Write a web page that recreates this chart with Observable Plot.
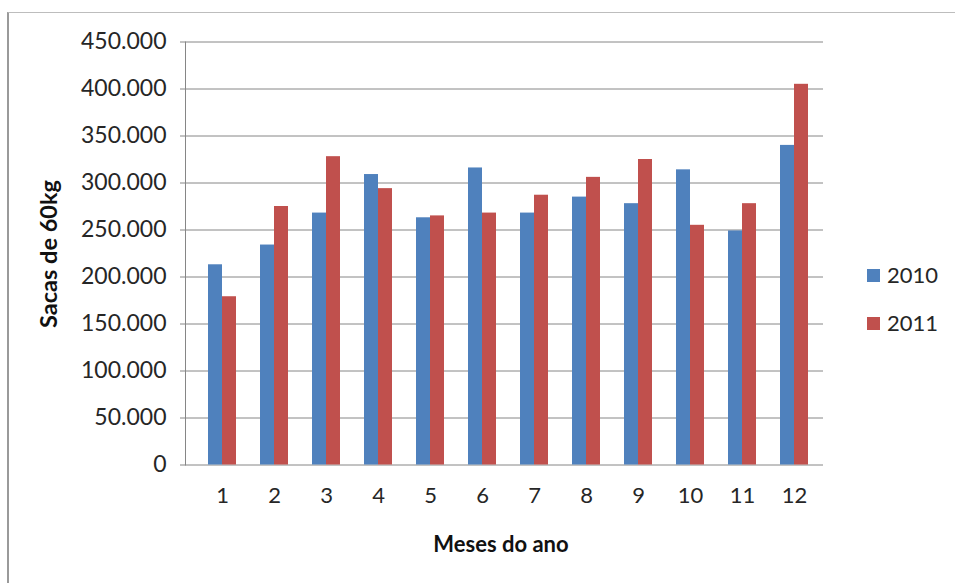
<!DOCTYPE html>
<html>
<head>
<meta charset="utf-8">
<script src="https://cdn.jsdelivr.net/npm/d3@7"></script>
<script src="https://cdn.jsdelivr.net/npm/@observablehq/plot@0.6"></script>
<style>
  html, body { margin: 0; padding: 0; background: #fff; }
  #chart { position: relative; width: 955px; height: 583px; overflow: hidden; font-family: Lato, "Open Sans", sans-serif; color: #262626; }
  #border { position: absolute; left: 7px; top: 12px; width: 1000px; height: 1000px; border-left: 2px solid #9a9a9a; border-top: 1px solid #bdbdbd; }
  #plot { position: absolute; left: 0; top: 0; }
  .title { position: absolute; font-weight: bold; font-size: 22px; line-height: 22px; color: #111; white-space: nowrap; }
  #xtitle { left: 501px; top: 533px; transform: translateX(-50%); }
  #ytitle { left: 48px; top: 254px; font-size: 23.5px; transform: translate(-50%, -50%) rotate(-90deg); }
  .legend-item { position: absolute; left: 867px; display: flex; align-items: center; font-size: 22px; line-height: 22px; color: #262626; }
  .legend-item span.swatch { display: inline-block; width: 13px; height: 13px; margin-right: 7px; }
</style>
</head>
<body>
<div id="chart">
  <div id="border"></div>
  <div id="plot"></div>
  <div class="title" id="ytitle">Sacas de 60kg</div>
  <div class="title" id="xtitle">Meses do ano</div>
  <div id="legend"></div>
</div>
<script>
// Monthly volume, in 60 kg bags
const months = [1, 2, 3, 4, 5, 6, 7, 8, 9, 10, 11, 12];
const bags2010 = [213000, 234000, 268000, 309000, 263000, 316000, 268000, 285000, 278000, 314000, 249000, 340000];
const bags2011 = [179000, 275000, 328000, 294000, 265000, 268000, 287000, 306000, 325000, 255000, 278000, 405000];
const years = ["2010", "2011"];
const yearColors = ["#4F81BD", "#C0504D"];
const yTicks = [0, 50000, 100000, 150000, 200000, 250000, 300000, 350000, 400000, 450000];

const rows2010 = months.map((m, i) => ({month: m, year: years[0], bags: bags2010[i]}));
const rows2011 = months.map((m, i) => ({month: m, year: years[1], bags: bags2011[i]}));

// Brazilian number format: dot as thousands separator
const ptBR = d3.formatLocale({decimal: ",", thousands: ".", grouping: [3], currency: ["R$", ""]});
const fmt = ptBR.format(",.0f");

const gridColor = "#868686";

const chart = Plot.plot({
  width: 955,
  height: 583,
  marginLeft: 185,
  marginRight: 132,
  marginTop: 41.5,
  marginBottom: 118.5,
  style: {fontFamily: "Lato, 'Open Sans', sans-serif", fontSize: "22px", color: "#262626", background: "transparent"},
  x: {type: "band", domain: months, paddingInner: 0.46667, paddingOuter: 0.23333, insetLeft: 8, label: null},
  y: {domain: [0, 450000], label: null},
  marks: [
    Plot.ruleY(yTicks, {stroke: gridColor, strokeWidth: 1}),
    // paired columns: 2010 on the left half of each month band, 2011 on the right half
    Plot.barY(rows2010, {x: "month", y: "bags", fill: yearColors[0], insetRight: 14}),
    Plot.barY(rows2011, {x: "month", y: "bags", fill: yearColors[1], insetLeft: 14}),
    Plot.frame({anchor: "left", stroke: gridColor}),
    Plot.axisY({ticks: yTicks, tickFormat: fmt, tickSize: 5, tickPadding: 14, stroke: gridColor, fill: "#262626", fontSize: 23, label: null}),
    Plot.axisX({tickSize: 0, tickPadding: 22, fill: "#262626", label: null})
  ]
});
document.getElementById("plot").appendChild(chart);

// legend
const legend = document.getElementById("legend");
const legendTops = [264, 312];
years.forEach((yr, i) => {
  const item = document.createElement("div");
  item.className = "legend-item";
  item.style.top = legendTops[i] + "px";
  const sw = document.createElement("span");
  sw.className = "swatch";
  sw.style.background = yearColors[i];
  item.appendChild(sw);
  item.appendChild(document.createTextNode(yr));
  legend.appendChild(item);
});
</script>
</body>
</html>
